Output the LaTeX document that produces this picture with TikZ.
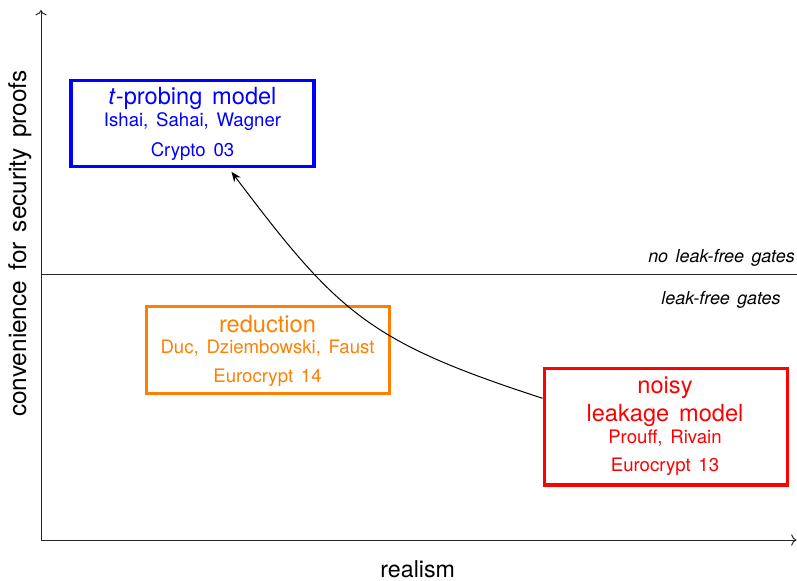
\documentclass[tikz,border=0pt]{standalone}
\usepackage{fontspec}
\setmainfont[WordSpace=1.5]{TeX Gyre Heros}
\usetikzlibrary{arrows.meta}
\definecolor{cblue}{RGB}{0,0,255}
\definecolor{corange}{RGB}{255,128,0}
\definecolor{cred}{RGB}{255,0,0}
\tikzset{
  modelbox/.style={draw, line width=1.65pt, minimum width=121.5pt, inner sep=0pt},
  titletext/.style={font=\fontsize{11.8}{14}\selectfont, anchor=base, inner sep=0pt},
  subtext/.style={font=\fontsize{9.3}{11}\selectfont, anchor=base, inner sep=0pt},
  gatetext/.style={font=\fontsize{8.95}{11}\selectfont\itshape, anchor=base, inner sep=0pt},
  axislabel/.style={font=\fontsize{11.6}{14}\selectfont, anchor=base, inner sep=0pt},
  axisline/.style={line width=0.5pt, black!85},
}
\begin{document}
\begin{tikzpicture}[x=0.5pt,y=-0.5pt]
\useasboundingbox (0,0) rectangle (797,580);
% axes
\coordinate (O) at (41,540);
\coordinate (Ytop) at (41,10);
\coordinate (Xend) at (796.5,540);
\draw[axisline,->] (O) -- (Ytop);
\draw[axisline,->] (O) -- (Xend);
% separating line
\coordinate (L1) at (41,274.5);
\coordinate (L2) at (797,274.5);
\draw[axisline] (L1) -- (L2);
\node[gatetext] (nlf) at (721.5,262) {no leak-free gates};
\node[gatetext] (lf) at (721,304) {leak-free gates};
% axis labels
\node[axislabel] (xl) at (417.7,577.5) {realism};
\node[axislabel, font=\fontsize{12.2}{14}\selectfont, rotate=90] (yl) at (26,243.5) {convenience for security proofs};
% boxes
\node[modelbox, draw=cblue, minimum height=42.75pt] (blue) at (192.5,123.4) {};
\node[modelbox, draw=corange, minimum height=43.25pt] (orange) at (267.8,350) {};
\node[modelbox, draw=cred, minimum height=58.35pt] (red) at (665.7,426.7) {};
% blue texts
\node[titletext, text=cblue] (bt) at (192.5,104.5) {\textit{t}-probing model};
\node[subtext, text=cblue] (ba) at (192.5,126) {Ishai, Sahai, Wagner};
\node[subtext, text=cblue] (bv) at (192.5,156) {Crypto 03};
% orange texts
\node[titletext, text=corange] (ot) at (267.5,332.3) {reduction};
\node[subtext, text=corange] (oa) at (267.5,353.3) {Duc, Dziembowski, Faust};
\node[subtext, text=corange] (ov) at (267.5,382.7) {Eurocrypt 14};
% red texts
\node[titletext, text=cred] (rt1) at (665,393.3) {noisy};
\node[titletext, text=cred] (rt2) at (665,421.7) {leakage model};
\node[subtext, text=cred] (ra) at (665,443.3) {Prouff, Rivain};
\node[subtext, text=cred] (rv) at (665,471.7) {Eurocrypt 13};
% arrow
\draw[-{Stealth[length=5pt,width=4pt]}, line width=0.5pt, shorten >=2.5pt]
  (red.167) to[out=162,in=-53,looseness=1.2] (blue.309);
\end{tikzpicture}
\end{document}
